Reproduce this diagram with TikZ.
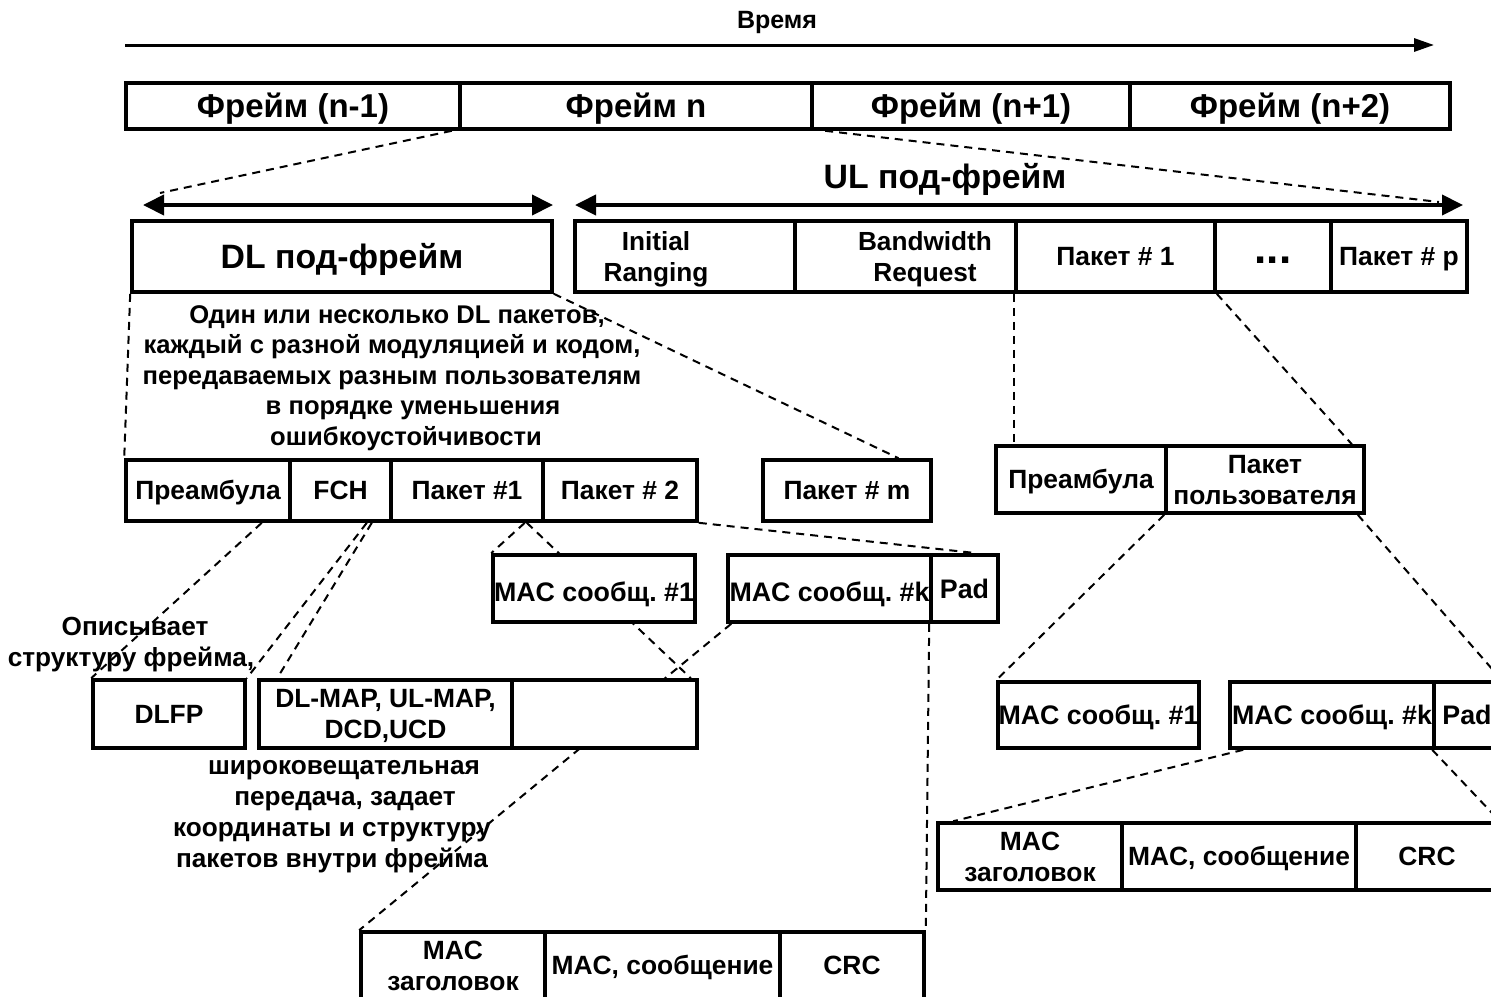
\documentclass[tikz,border=0pt]{standalone}
\usepackage{fontspec}
\setmainfont{Liberation Sans}
\usetikzlibrary{arrows.meta,calc}
\pgfdeclarelayer{bg}
\pgfsetlayers{bg,main}
\frenchspacing
\newcommand\topstrut{\rule{0pt}{1.016em}}
\newcommand\botstrut{\rule[-0.3em]{0pt}{0.3em}}
\newcommand\cellnode[7][]{\node[cell,#1,minimum width={(#5-#3)*0.5pt},minimum height={(#6-#4)*0.5pt}] (#2) at ({(#3+#5)/2},{(#4+#6)/2}) {\topstrut#7\botstrut};}
\begin{document}
\begin{tikzpicture}[x=0.5pt,y=-0.5pt,
  cell/.style={draw,line width=1.8pt,fill=white,inner sep=0pt,align=center,font=\fontsize{13.2}{15.5}\selectfont\bfseries},
  big/.style={font=\fontsize{16.5}{19}\selectfont\bfseries},
  bigger/.style={font=\fontsize{16.9}{19}\selectfont\bfseries},
  mac/.style={font=\fontsize{13.4}{15.5}\selectfont\bfseries},
  txt/.style={align=center,inner sep=0pt,font=\fontsize{13.1}{15.5}\selectfont\bfseries},
  desc/.style={align=center,inner sep=0pt,font=\fontsize{12.8}{15.2}\selectfont\bfseries},
  conn/.style={line width=1pt,dash pattern=on 4pt off 3pt},
  timearrow/.style={line width=1.5pt,-{Triangle[length=10pt,width=6.5pt]}},
  dblarrow/.style={line width=2pt,{Triangle[length=10.5pt,width=10pt]}-{Triangle[length=10.5pt,width=10pt]}}]
\useasboundingbox (0,0) rectangle (1491,996);

% time axis
\coordinate (ts) at (125,45);
\coordinate (te) at (1434,45);
\draw[timearrow] (ts) -- (te);
\node[txt,font=\fontsize{12.5}{15}\selectfont\bfseries] (time) at (777,22) {Время};

% frames
\cellnode[big]{f1}{126}{83}{460}{129}{Фрейм (n-1)}
\cellnode[big]{f2}{460}{83}{812}{129}{Фрейм n}
\cellnode[big]{f3}{812}{83}{1130}{129}{Фрейм (n+1)}
\cellnode[big]{f4}{1130}{83}{1450}{129}{Фрейм (n+2)}

% sub-frame arrows
\coordinate (dlL) at (143,205);
\coordinate (dlR) at (553,205);
\coordinate (ulL) at (575,205);
\coordinate (ulR) at (1463,205);
\draw[dblarrow] (dlL) -- (dlR);
\draw[dblarrow] (ulL) -- (ulR);
\coordinate (dltip) at (160,193);
\coordinate (ultip) at (1439,202);
\node[bigger,inner sep=0pt] (ultitle) at (945,179) {UL под-фрейм};

% DL sub-frame
\cellnode[bigger]{dl}{132}{221}{552}{292}{DL под-фрейм}

% UL sub-frame
\cellnode{ir}{575}{221}{795}{292}{}
\node[txt] (irt) at (656,259) {Initial\\Ranging};
\cellnode{bw}{795}{221}{1016}{292}{}
\node[txt] (bwt) at (925,259) {Bandwidth\\Request};
\cellnode{up1}{1016}{221}{1215}{292}{Пакет \# 1}
\cellnode{udots}{1215}{221}{1331}{292}{}
\node[anchor=base,inner sep=0pt,font=\fontsize{22}{22}\selectfont\bfseries] (dots) at (1273,263) {...};
\cellnode{upp}{1331}{221}{1467}{292}{Пакет \# p}

% description
\node[desc] (descr) at (392,378) {\hspace*{5pt}Один или несколько DL пакетов,\\каждый с разной модуляцией и кодом,\\передаваемых разным пользователям\hspace*{4pt}\\\hspace*{21pt}в порядке уменьшения\\\hspace*{14pt}ошибкоустойчивости};

% DL packets
\cellnode{pre}{126}{460}{290}{521}{Преамбула}
\cellnode{fch}{290}{460}{391}{521}{FCH}
\cellnode{p1}{391}{460}{543}{521}{Пакет \#1}
\cellnode{p2}{543}{460}{697}{521}{Пакет \# 2}
\cellnode{pm}{763}{460}{931}{521}{Пакет \# m}

% UL packet
\cellnode{upre}{996}{446}{1166}{513}{Преамбула}
\cellnode{uuser}{1166}{446}{1364}{513}{Пакет\\пользователя}

% DL MAC messages
\cellnode[mac]{mac1}{493}{555}{695}{622}{\raisebox{-1.7pt}{MAC сообщ. \#1}}
\cellnode[mac]{mack}{728}{555}{931}{622}{\raisebox{-1.7pt}{MAC сообщ. \#k}}
\cellnode[mac]{pad}{931}{555}{998}{622}{Pad}

% FCH content
\cellnode{dlfp}{93}{680}{245}{748}{DLFP}
\cellnode{dlmap}{259}{680}{512}{748}{DL-MAP, UL-MAP,\\DCD,UCD}
\cellnode{dlmapx}{512}{680}{697}{748}{}

\node[txt] (opis) at (131,645) {\hspace*{4pt}Описывает\\структуру фрейма,};
\node[txt] (bcast) at (332,817) {\hspace*{12pt}широковещательная\\\hspace*{13pt}передача, задает\\координаты и структуру\\пакетов внутри фрейма};

% DL MAC PDU
\cellnode{mh}{361}{932}{545}{999}{MAC\\заголовок}
\cellnode{mm}{545}{932}{780}{999}{MAC, сообщение}
\cellnode{mc}{780}{932}{924}{999}{CRC}

% UL MAC messages
\cellnode[mac]{rmac1}{998}{682}{1199}{748}{MAC сообщ. \#1}
\cellnode[mac]{rmack}{1230}{682}{1434}{748}{MAC сообщ. \#k}
\cellnode[mac]{rpad}{1434}{682}{1500}{748}{Pad}

% UL MAC PDU
\cellnode{rmh}{938}{823}{1122}{890}{MAC\\заголовок}
\cellnode{rmm}{1122}{823}{1356}{890}{MAC, сообщение}
\cellnode{rmc}{1356}{823}{1498}{890}{CRC}

\begin{pgfonlayer}{bg}
\draw[conn] ($(f1.south east)+(-10,0)$) -- (dltip);
\draw[conn] ($(f3.south west)+(15,0)$) -- (ultip);
\draw[conn] (dl.south west) -- (pre.north west);
\draw[conn] (dl.south east) -- ($(pm.north west)!0.8!(pm.north east)$);
\draw[conn] (up1.south west) -- (up1.south west |- upre.north);
\draw[conn] (up1.south east) -- ($(uuser.north east)+(-14,0)$);
\draw[conn] ($(pre.south east)+(-30,0)$) -- (dlfp.north west);
\draw[conn] ($(fch.south east)+(-26,0)$) -- (dlfp.north east);
\draw[conn] ($(fch.south east)+(-21,0)$) -- ($(dlmap.north west)+(20,0)$);
\draw[conn] ($(p1.south east)+(-20,0)$) -- (mac1.north west);
\draw[conn] ($(p1.south east)+(-18,0)$) -- ($(dlmapx.north east)+(-8,0)$);
\draw[conn] (p2.south east) -- ($(pad.north east)+(-23,0)$);
\draw[conn] ($(mack.south west)+(5,0)$) -- (mh.north west);
\draw[conn] (pad.south west) -- (mc.north east);
\draw[conn] (uuser.south west) -- (rmac1.north west);
\draw[conn] ($(uuser.south east)+(-8,0)$) -- (rpad.north east);
\draw[conn] ($(rmack.south west)+(15,0)$) -- ($(rmh.north west)+(17,0)$);
\draw[conn] (rpad.south west) -- (rmc.north east);
\end{pgfonlayer}
\end{tikzpicture}
\end{document}
